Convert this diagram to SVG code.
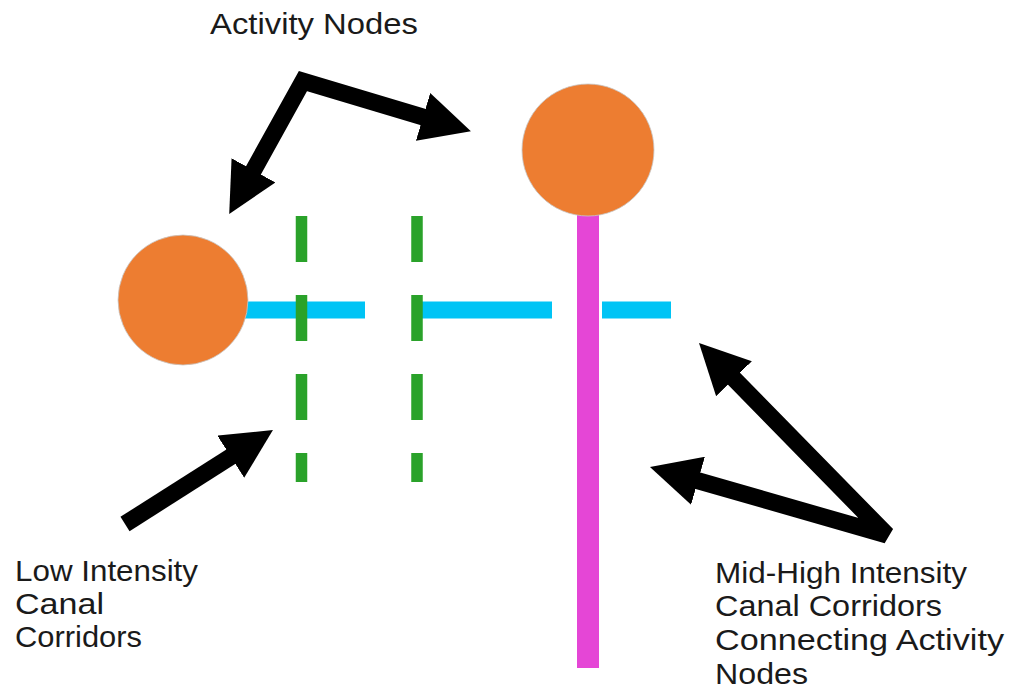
<svg xmlns="http://www.w3.org/2000/svg" width="1009" height="693" viewBox="0 0 1009 693">
<style>
.lbl{font-family:"Liberation Sans",Arial,sans-serif;font-size:30px;fill:#1a1a1a}
.arrow{fill:none;stroke:#000;stroke-width:17}
.node{fill:#ED7D31;stroke:#C8C8C8;stroke-width:0.8}
.cyan{stroke:#00C4F5;stroke-width:17}
.green{stroke:#2AA22A;stroke-width:11.5;stroke-dasharray:46 33}
</style>
<defs>
<marker id="head" markerUnits="userSpaceOnUse" markerWidth="50" markerHeight="50" refX="10" refY="25" orient="auto-start-reverse" viewBox="0 0 50 50">
<path d="M0,0 L50,25 L0,50 Z" fill="#000"/>
</marker>
</defs>
<rect width="1009" height="693" fill="#fff"/>
<g id="corridors">
<line class="cyan" x1="183" y1="310" x2="365" y2="310"/>
<line class="cyan" x1="415" y1="310" x2="552" y2="310"/>
<line class="cyan" x1="602" y1="310" x2="671" y2="310"/>
<line class="green" x1="301.5" y1="216" x2="301.5" y2="482"/>
<line class="green" x1="417" y1="216" x2="417" y2="482"/>
<rect x="577" y="212" width="22" height="456" fill="#E546D6"/>
</g>
<g id="node-left"><circle class="node" cx="183" cy="300" r="65"/></g>
<g id="node-right"><circle class="node" cx="588" cy="150" r="66"/></g>
<g id="connectors">
<polyline class="arrow" points="248.6,179.1 303,81 432.6,119.8" stroke-linejoin="miter" marker-start="url(#head)" marker-end="url(#head)"/>
<line class="arrow" x1="125" y1="524" x2="239.2" y2="451.4" marker-end="url(#head)"/>
<polyline class="arrow" points="727,371.6 887,535 688.4,478" stroke-linejoin="bevel" marker-start="url(#head)" marker-end="url(#head)"/>
</g>
<g id="labels">
<text class="lbl" x="210" y="34" textLength="208" lengthAdjust="spacingAndGlyphs">Activity Nodes</text>
<text class="lbl" x="15" y="581" textLength="183" lengthAdjust="spacingAndGlyphs">Low Intensity</text>
<text class="lbl" x="15" y="614" textLength="89" lengthAdjust="spacingAndGlyphs">Canal</text>
<text class="lbl" x="15" y="647" textLength="127" lengthAdjust="spacingAndGlyphs">Corridors</text>
<text class="lbl" x="715" y="583" textLength="252" lengthAdjust="spacingAndGlyphs">Mid-High Intensity</text>
<text class="lbl" x="715" y="616" textLength="227" lengthAdjust="spacingAndGlyphs">Canal Corridors</text>
<text class="lbl" x="715" y="650" textLength="289" lengthAdjust="spacingAndGlyphs">Connecting Activity</text>
<text class="lbl" x="715" y="684" textLength="93" lengthAdjust="spacingAndGlyphs">Nodes</text>
</g>
</svg>
